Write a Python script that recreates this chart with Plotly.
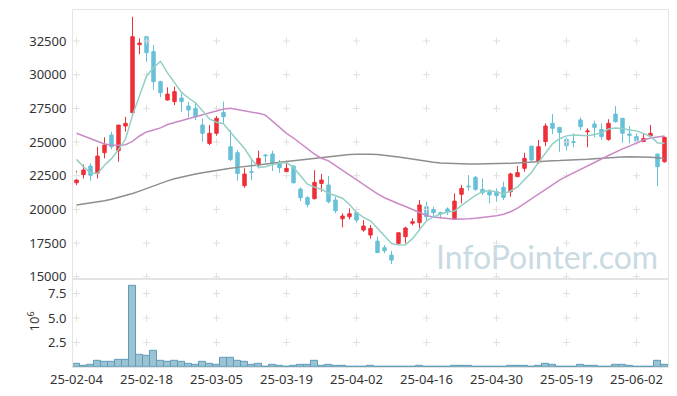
import plotly.graph_objects as go

dates = [
    "25-02-04", "25-02-05", "25-02-06", "25-02-07", "25-02-10", "25-02-11", "25-02-12", "25-02-13", "25-02-14", "25-02-17",
    "25-02-18", "25-02-19", "25-02-20", "25-02-21", "25-02-24", "25-02-25", "25-02-26", "25-02-27", "25-02-28", "25-03-04",
    "25-03-05", "25-03-06", "25-03-07", "25-03-10", "25-03-11", "25-03-12", "25-03-13", "25-03-14", "25-03-17", "25-03-18",
    "25-03-19", "25-03-20", "25-03-21", "25-03-24", "25-03-25", "25-03-26", "25-03-27", "25-03-28", "25-03-31", "25-04-01",
    "25-04-02", "25-04-03", "25-04-04", "25-04-07", "25-04-08", "25-04-09", "25-04-10", "25-04-11", "25-04-14", "25-04-15",
    "25-04-16", "25-04-17", "25-04-18", "25-04-21", "25-04-22", "25-04-23", "25-04-24", "25-04-25", "25-04-28", "25-04-29",
    "25-04-30", "25-05-02", "25-05-07", "25-05-08", "25-05-09", "25-05-12", "25-05-13", "25-05-14", "25-05-15", "25-05-16",
    "25-05-19", "25-05-20", "25-05-21", "25-05-22", "25-05-23", "25-05-26", "25-05-27", "25-05-28", "25-05-29", "25-05-30",
    "25-06-02", "25-06-04", "25-06-05", "25-06-09", "25-06-10",
]

opens = [21980, 22580, 23220, 22680, 24210, 25520, 24360, 26190, 27180, 32230,
         32820, 31710, 29480, 28120, 28000, 28270, 27670, 27500, 26260, 24900,
         25650, 27200, 24650, 24210, 21760, 22800, 23300, 24040, 24110, 23370,
         22800, 23220, 21510, 20870, 20800, 21930, 21810, 20700, 19310, 19460,
         19760, 18470, 18100, 17650, 17160, 16610, 17480, 17980, 18970, 19020,
         20200, 20000, 19760, 20030, 19260, 21120, 21730, 22380, 21490, 21310,
         21310, 21640, 21310, 22430, 23050, 24700, 23540, 25030, 26390, 26090,
         25200, 25030, 26640, 25770, 26340, 25940, 25200, 27080, 26760, 25600,
         25400, 25030, 25450, 24110, 23540]
highs = [22870, 23340, 23420, 24650, 25350, 25770, 26260, 26880, 34300, 32700,
         32870, 32200, 29550, 29060, 29110, 28610, 27990, 27870, 26760, 26260,
         26930, 28000, 25890, 24410, 23050, 23670, 24360, 24110, 24360, 23670,
         23620, 23290, 21640, 20990, 22920, 22630, 22480, 20940, 19710, 20080,
         19950, 19210, 18840, 17970, 17360, 16930, 18270, 18720, 19340, 20700,
         20570, 20200, 19830, 20150, 21190, 21810, 22550, 22480, 22300, 21490,
         21560, 22060, 22730, 23220, 24210, 24700, 25150, 26390, 27080, 26090,
         25350, 25650, 26830, 26020, 26590, 26390, 26690, 27670, 26760, 26190,
         25650, 25650, 26260, 24110, 25400]
lows = [21800, 22300, 22130, 22300, 23790, 24460, 23540, 25770, 27130, 31530,
        30960, 28860, 28320, 28070, 27750, 27250, 26830, 26640, 25030, 24780,
        25470, 26390, 23590, 22130, 21610, 22180, 23050, 23470, 22850, 22720,
        22800, 21930, 20620, 20150, 20750, 21320, 20450, 19710, 18670, 19260,
        19010, 18350, 17830, 16790, 16740, 15940, 17430, 17480, 18820, 18590,
        19210, 19460, 19330, 19580, 19260, 20450, 21390, 21390, 21070, 20450,
        20570, 20700, 20940, 22430, 22800, 23540, 23370, 24700, 25600, 24280,
        24360, 24610, 25890, 24610, 25350, 25150, 25100, 26440, 24950, 24900,
        24950, 25030, 25400, 21730, 23470]
closes = [22180, 22920, 22530, 23960, 24780, 24650, 26260, 26390, 32820, 32350,
          31630, 29480, 28660, 28560, 28740, 28000, 27380, 26880, 25650, 25650,
          26760, 26880, 23710, 22670, 22625, 22750, 23790, 23990, 23470, 23100,
          23050, 21980, 20870, 20370, 22010, 22180, 20570, 19900, 19510, 19680,
          19210, 18770, 18590, 16790, 16930, 16240, 18270, 18620, 19090, 20330,
          19460, 19760, 19680, 19850, 20620, 21560, 21685, 21490, 21240, 21070,
          21020, 20890, 22630, 22730, 23790, 23670, 24650, 26190, 26020, 25700,
          24730, 24980, 26140, 25820, 26090, 25400, 26390, 26510, 25650, 25500,
          25100, 25270, 25645, 23170, 25350]

ma5 = [23713, 23168, 22723, 22673, 23274, 23768, 24436, 25208, 26980, 28494,
       29890, 30534, 30988, 30136, 29414, 28688, 28268, 27912, 27330, 26712,
       26464, 26364, 25730, 25134, 24529, 23727, 23109, 23165, 23325, 23420,
       23480, 23118, 22494, 21874, 21656, 21482, 21200, 21006, 20834, 20368,
       19774, 19414, 19152, 18608, 18058, 17464, 17364, 17370, 17830, 18510,
       19154, 19452, 19664, 19816, 19874, 20294, 20679, 21041, 21319, 21409,
       21301, 21142, 21370, 21668, 22212, 22742, 23494, 24206, 24864, 25246,
       25458, 25524, 25514, 25474, 25552, 25686, 25968, 26042, 26008, 25890,
       25830, 25606, 25433, 24937, 24907]
ma20 = [25650, 25450, 25200, 25000, 24850, 24780, 24760, 24800, 25050, 25450,
        25750, 25900, 26050, 26300, 26450, 26600, 26720, 26850, 27000, 27150,
        27300, 27450, 27500, 27420, 27320, 27230, 27130, 27000, 26550, 26100,
        25650, 25300, 24900, 24450, 24100, 23800, 23600, 23250, 22900, 22550,
        22200, 21850, 21450, 21150, 20870, 20620, 20420, 20220, 20000, 19750,
        19550, 19430, 19400, 19330, 19270, 19260, 19300, 19340, 19390, 19450,
        19530, 19640, 19830, 20100, 20450, 20800, 21170, 21500, 21880, 22180,
        22450, 22720, 22960, 23220, 23480, 23740, 24000, 24260, 24490, 24700,
        24930, 25150, 25300, 25400, 25450]
ma120 = [20320, 20390, 20470, 20560, 20650, 20760, 20890, 21030, 21180, 21360,
         21560, 21770, 21950, 22120, 22270, 22400, 22520, 22630, 22730, 22820,
         22900, 22980, 23050, 23120, 23190, 23260, 23320, 23380, 23440, 23500,
         23560, 23620, 23680, 23740, 23800, 23860, 23920, 23980, 24030, 24070,
         24100, 24110, 24100, 24070, 24020, 23960, 23890, 23810, 23720, 23630,
         23560, 23500, 23450, 23420, 23400, 23390, 23380, 23380, 23380, 23380,
         23390, 23400, 23420, 23450, 23490, 23540, 23580, 23610, 23620, 23630,
         23640, 23660, 23690, 23720, 23760, 23800, 23840, 23870, 23890, 23900,
         23910, 23900, 23880, 23840, 23770]

volume_m = [0.36, 0.15, 0.25, 0.66, 0.56, 0.56, 0.76, 0.76, 8.24, 1.27,
            1.17, 1.68, 0.59, 0.49, 0.59, 0.49, 0.36, 0.25, 0.49, 0.36,
            0.25, 0.97, 0.97, 0.59, 0.49, 0.25, 0.36, 0.03, 0.25, 0.15,
            0.05, 0.15, 0.25, 0.25, 0.66, 0.15, 0.25, 0.15, 0.15, 0.05,
            0.05, 0.05, 0.15, 0.05, 0.05, 0.05, 0.05, 0.05, 0.05, 0.15,
            0.05, 0.0, 0.0, 0.0, 0.15, 0.15, 0.15, 0.05, 0.05, 0.05,
            0.05, 0.05, 0.15, 0.15, 0.15, 0.05, 0.15, 0.36, 0.25, 0.05,
            0.05, 0.05, 0.25, 0.15, 0.15, 0.05, 0.05, 0.25, 0.25, 0.15,
            0.05, 0.05, 0.05, 0.59, 0.25]

price_ticks = [15000, 17500, 20000, 22500, 25000, 27500, 30000, 32500]
volume_ticks = [2.5, 5.0, 7.5]
volume_ticktext = ["2.5", "5.0", "7.5"]
x_tick_labels = dates[::10]

RED = "#ee3039"
BLUE = "#66c0d8"
BORDER = "#e4e4e4"
GRIDMARK = "#e0e0e0"
FONT = "Noto Sans, sans-serif"
TXT = "#333333"

fig = go.Figure()

fig.add_trace(go.Candlestick(
    x=dates, open=opens, high=highs, low=lows, close=closes,
    xaxis="x", yaxis="y",
    increasing=dict(line=dict(color=RED, width=1), fillcolor=RED),
    decreasing=dict(line=dict(color=BLUE, width=1), fillcolor=BLUE),
    whiskerwidth=0, showlegend=False, hoverinfo="skip"))

fig.add_trace(go.Bar(x=dates, y=volume_m, xaxis="x2", yaxis="y2",
                     marker=dict(color="rgba(128,178,200,0.78)", line=dict(color="#5f9cb8", width=1)),
                     showlegend=False, hoverinfo="skip"))

# grid "+" marks at tick intersections
gx, gy = [], []
for xv in x_tick_labels:
    for yv in price_ticks:
        gx.append(xv); gy.append(yv)
fig.add_trace(go.Scatter(x=gx, y=gy, mode="markers", xaxis="x", yaxis="y",
                         marker=dict(symbol="cross-thin", size=5, line=dict(color=GRIDMARK, width=1)),
                         hoverinfo="skip", showlegend=False))
gx2, gy2 = [], []
for xv in x_tick_labels:
    for yv in volume_ticks:
        gx2.append(xv); gy2.append(yv)
fig.add_trace(go.Scatter(x=gx2, y=gy2, mode="markers", xaxis="x2", yaxis="y2",
                         marker=dict(symbol="cross-thin", size=5, line=dict(color=GRIDMARK, width=1)),
                         hoverinfo="skip", showlegend=False))

fig.add_trace(go.Scatter(x=dates, y=ma120, mode="lines", xaxis="x", yaxis="y",
                         line=dict(color="#8e8e8e", width=1.5), showlegend=False, hoverinfo="skip"))
fig.add_trace(go.Scatter(x=dates, y=ma20, mode="lines", xaxis="x", yaxis="y",
                         line=dict(color="#c98ac6", width=1.5), showlegend=False, hoverinfo="skip"))
fig.add_trace(go.Scatter(x=dates, y=ma5, mode="lines", xaxis="x", yaxis="y",
                         line=dict(color="#92d0c4", width=1.5), showlegend=False, hoverinfo="skip"))

split = 0.247
fig.update_layout(
    width=677, height=396,
    margin=dict(l=73, r=9, t=10, b=29, autoexpand=False),
    paper_bgcolor="white", plot_bgcolor="white",
    font=dict(family=FONT, size=13, color=TXT),
    bargap=0,
    showlegend=False,
    xaxis=dict(domain=[0, 1], anchor="y", type="category",
               categoryorder="array", categoryarray=dates, range=[-0.5, 84.5],
               showticklabels=False, showgrid=False, zeroline=False,
               showline=True, linecolor=BORDER, mirror=True, automargin=False,
               rangeslider=dict(visible=False)),
    yaxis=dict(domain=[split, 1], anchor="x", range=[14850, 34800],
               tickmode="array", tickvals=price_ticks, ticktext=[str(v) for v in price_ticks],
               showgrid=False, zeroline=False, showline=True, linecolor=BORDER, mirror=True,
               ticks="", ticklabelstandoff=3, automargin=False, tickfont=dict(size=13, color=TXT)),
    xaxis2=dict(domain=[0, 1], anchor="y2", type="category", matches="x",
                categoryorder="array", categoryarray=dates, range=[-0.5, 84.5],
                tickmode="array", tickvals=x_tick_labels, ticktext=x_tick_labels,
                showgrid=False, zeroline=False, showline=True, linecolor=BORDER, mirror=True,
                ticks="", automargin=False, tickfont=dict(size=13, color=TXT), tickangle=0),
    yaxis2=dict(domain=[0, split], anchor="x2", range=[0, 9],
                tickmode="array", tickvals=volume_ticks, ticktext=volume_ticktext,
                showgrid=False, zeroline=False, showline=True, linecolor=BORDER, mirror=True,
                ticks="", ticklabelstandoff=3, automargin=False, tickfont=dict(size=13, color=TXT)),
    annotations=[
        dict(text="InfoPointer.com", xref="paper", yref="paper", x=0.986, y=0.31,
             xanchor="right", yanchor="middle", showarrow=False,
             font=dict(family="Lato, sans-serif", size=32, color="#c9dae3")),
        dict(text="10<sup>6</sup>", xref="paper", yref="paper", x=-0.067, y=0.128,
             xanchor="center", yanchor="middle", showarrow=False, textangle=-90,
             font=dict(size=13, color=TXT)),
    ],
)

fig.write_html("out.html", config={"displayModeBar": False},
               post_script="document.body.style.margin='0px';document.body.style.overflow='hidden';")
